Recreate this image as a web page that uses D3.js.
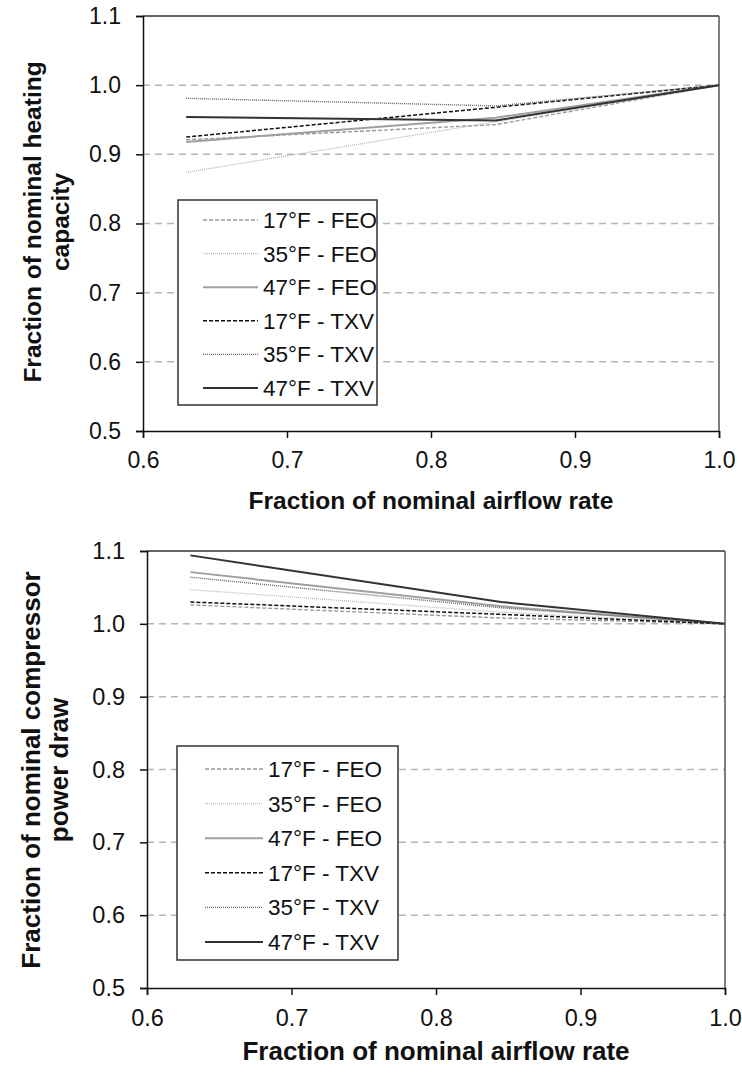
<!DOCTYPE html>
<html><head><meta charset="utf-8">
<script src="https://cdn.jsdelivr.net/npm/d3@7"></script>
<style>body{margin:0;background:#fff}svg{display:block;font-family:"Liberation Sans",Arial,sans-serif}</style>
</head><body><svg id="c" width="742" height="1076"></svg>
<script>
const airflow = [0.63, 0.845, 1.0];
const seriesNames = ["17°F - FEO","35°F - FEO","47°F - FEO","17°F - TXV","35°F - TXV","47°F - TXV"];
const heating17FEO = [0.921, 0.943, 1.0];
const heating35FEO = [0.874, 0.947, 1.0];
const heating47FEO = [0.918, 0.953, 1.0];
const heating17TXV = [0.925, 0.968, 1.0];
const heating35TXV = [0.981, 0.970, 1.0];
const heating47TXV = [0.954, 0.949, 1.0];
const power17FEO = [1.026, 1.008, 1.0];
const power35FEO = [1.047, 1.016, 1.0];
const power47FEO = [1.071, 1.024, 1.0];
const power17TXV = [1.030, 1.013, 1.0];
const power35TXV = [1.064, 1.022, 1.0];
const power47TXV = [1.094, 1.030, 1.0];
const xTicks = [0.6, 0.7, 0.8, 0.9, 1.0];
const yTicks = [0.5, 0.6, 0.7, 0.8, 0.9, 1.0, 1.1];

const styles = [
  {stroke:"#9a9a9a", w:1.4, dash:"4,2"},
  {stroke:"#b8b8b8", w:1.3, dash:"1,1"},
  {stroke:"#a0a0a0", w:2, dash:null},
  {stroke:"#111", w:1.5, dash:"4,2"},
  {stroke:"#666", w:1.4, dash:"1,1"},
  {stroke:"#333", w:2, dash:null}
];

const svg = d3.select("#c");

function chart(cfg){
  const x = d3.scaleLinear().domain([0.6,1.0]).range([cfg.x0, cfg.x1]);
  const y = d3.scaleLinear().domain([0.5,1.1]).range([cfg.y0, cfg.y1]);
  const g = svg.append("g");
  g.selectAll(".grid").data(yTicks.filter(t=>t>0.55 && t<1.05)).join("line")
    .attr("x1", cfg.x0).attr("x2", cfg.x1)
    .attr("y1", d=>y(d)).attr("y2", d=>y(d))
    .attr("stroke","#b5b5b5").attr("stroke-width",1.5).attr("stroke-dasharray","7,5");
  g.append("line").attr("x1",cfg.x0).attr("x2",cfg.x1).attr("y1",cfg.y1).attr("y2",cfg.y1).attr("stroke","#333").attr("stroke-width",1.5);
  g.append("line").attr("x1",cfg.x1).attr("x2",cfg.x1).attr("y1",cfg.y1).attr("y2",cfg.y0).attr("stroke","#555").attr("stroke-width",1.5);
  const ya = g.append("g").attr("transform",`translate(${cfg.x0},0)`)
    .call(d3.axisLeft(y).tickValues(yTicks).tickFormat(d3.format(".1f")).tickSize(7).tickPadding(15));
  const xa = g.append("g").attr("transform",`translate(0,${cfg.y0})`)
    .call(d3.axisBottom(x).tickValues(xTicks).tickFormat(d3.format(".1f")).tickSize(7).tickPadding(14));
  [ya,xa].forEach(a=>{
    a.select(".domain").attr("stroke","#111").attr("stroke-width",1.5);
    a.selectAll(".tick line").attr("stroke","#111").attr("stroke-width",1.5);
    a.selectAll("text").attr("font-size",cfg.tickFont).attr("fill","#111").attr("font-family","Liberation Sans, Arial, sans-serif");
  });
  const line = d3.line().x((d,i)=>x(airflow[i])).y(d=>y(d));
  cfg.data.forEach((arr,k)=>{
    const s = styles[k];
    g.append("path").attr("d", line(arr)).attr("fill","none")
      .attr("stroke", s.stroke).attr("stroke-width", s.w)
      .attr("stroke-dasharray", s.dash);
  });
  g.append("text").attr("x",(cfg.x0+cfg.x1)/2).attr("y",cfg.xTitleY).attr("text-anchor","middle")
    .attr("font-size",cfg.titleFont).attr("font-weight","bold").attr("fill","#111").text("Fraction of nominal airflow rate");
  const yt = g.append("text").attr("transform",`translate(${cfg.yTitleX},${cfg.yTitleC}) rotate(-90)`)
    .attr("text-anchor","middle").attr("font-size",cfg.titleFont).attr("font-weight","bold").attr("fill","#111");
  yt.append("tspan").attr("x",0).attr("dy",0).text(cfg.yTitle[0]);
  yt.append("tspan").attr("x",0).attr("dy",28).text(cfg.yTitle[1]);
  const L = cfg.legend;
  g.append("rect").attr("x",L.x).attr("y",L.y).attr("width",L.w).attr("height",L.h)
    .attr("fill","#fff").attr("stroke","#333").attr("stroke-width",1.5);
  seriesNames.forEach((n,k)=>{
    const s = styles[k];
    const yy = L.y + L.first + k*L.step;
    g.append("line").attr("x1",L.x+L.l0).attr("x2",L.x+L.l1).attr("y1",yy).attr("y2",yy)
      .attr("stroke",s.stroke).attr("stroke-width",s.w).attr("stroke-dasharray",s.dash);
    g.append("text").attr("x",L.x+L.tx).attr("y",yy+8).attr("font-size",22.5).attr("fill","#111").text(n);
  });
}

chart({x0:143, x1:719, y0:431, y1:16, data:[heating17FEO,heating35FEO,heating47FEO,heating17TXV,heating35TXV,heating47TXV],
  tickFont:23, titleFont:24.5,
  xTitleY:509, yTitleX:41, yTitleC:222, yTitle:["Fraction of nominal heating","capacity"],
  legend:{x:178, y:200, w:199, h:205, first:20, step:33.6, l0:25, l1:80, tx:85}});
chart({x0:147, x1:725, y0:988, y1:551, data:[power17FEO,power35FEO,power47FEO,power17TXV,power35TXV,power47TXV],
  tickFont:23.5, titleFont:26,
  xTitleY:1060, yTitleX:40, yTitleC:770, yTitle:["Fraction of nominal compressor","power draw"],
  legend:{x:177, y:746, w:221, h:214, first:23, step:34.6, l0:28, l1:86, tx:91}});
</script></body></html>
